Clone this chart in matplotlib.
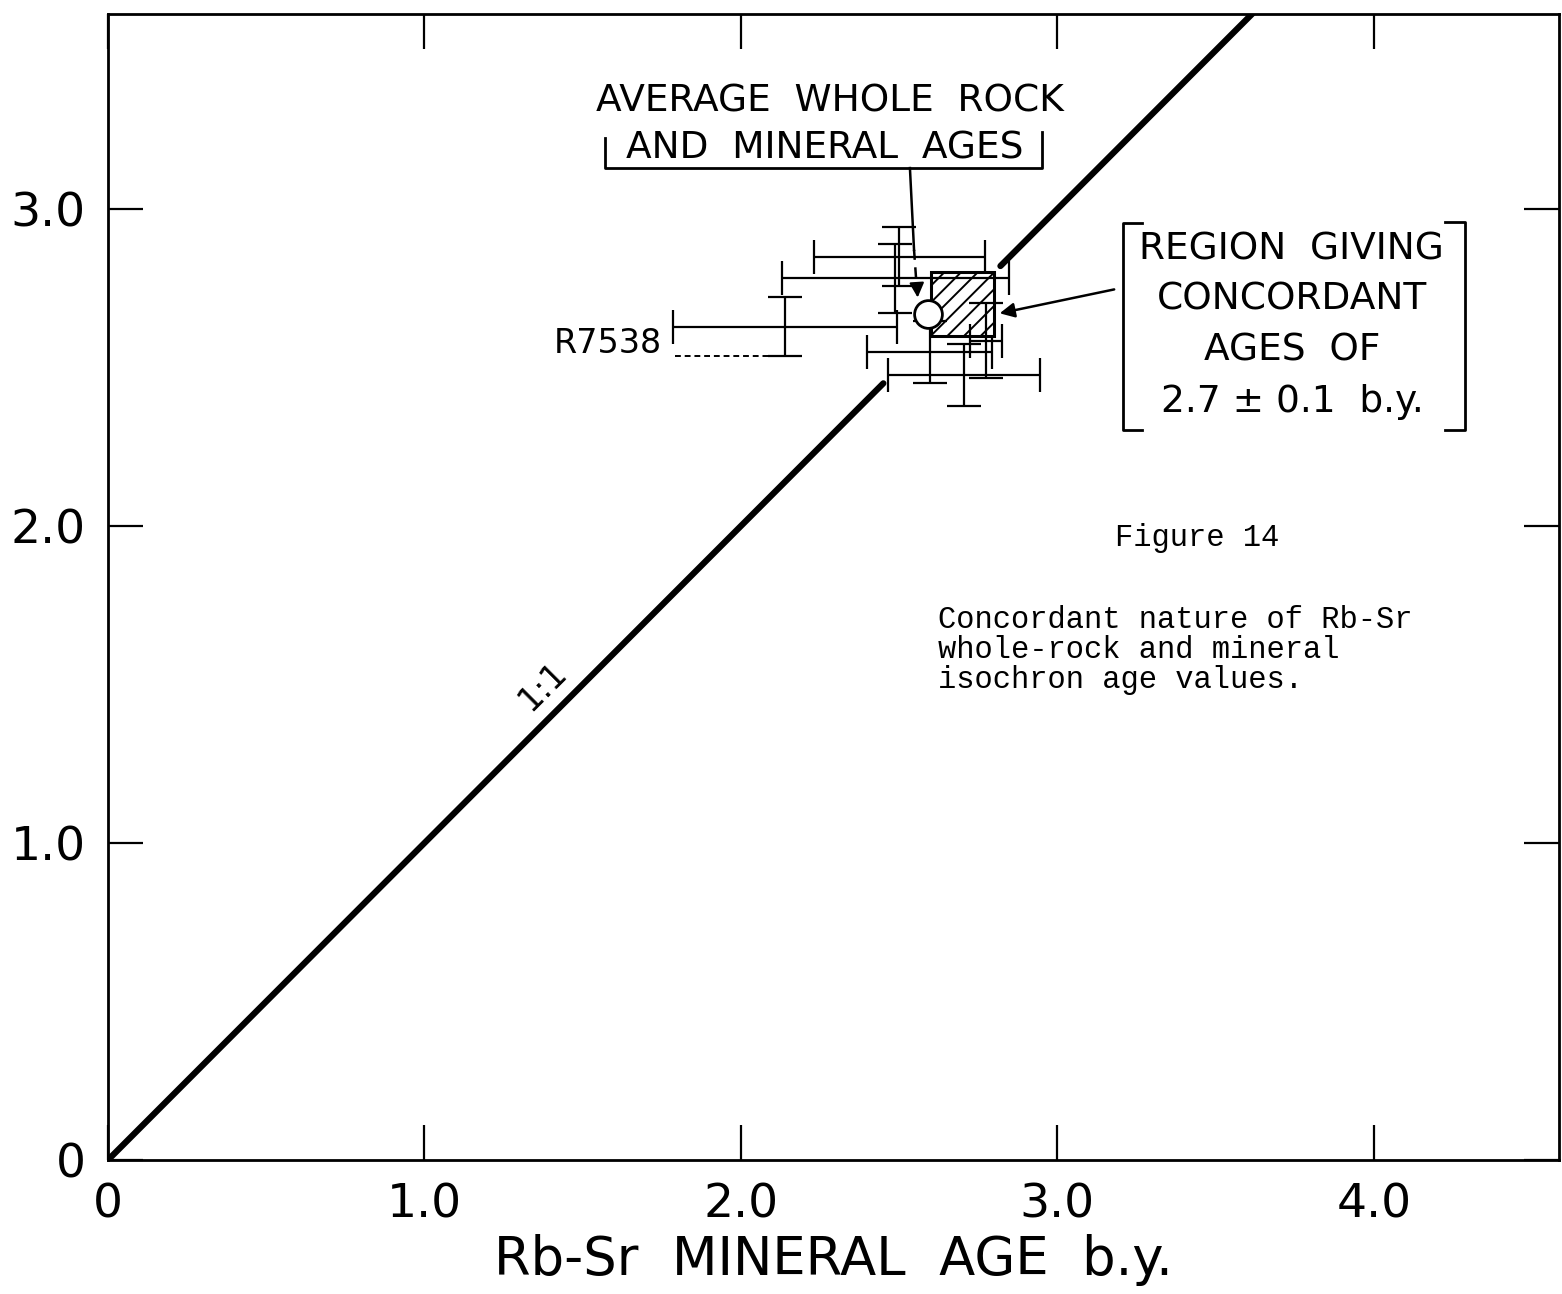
import matplotlib
matplotlib.use("Agg")
import matplotlib.pyplot as plt
from matplotlib.patches import Rectangle

# Rb-Sr mineral isochron ages (x) against whole-rock ages (y), b.y.
sample_names = ["R7538", "", "", "", "", ""]
mineral_age = [2.139, 2.501, 2.488, 2.596, 2.705, 2.774]
whole_rock_age = [2.628, 2.849, 2.782, 2.549, 2.476, 2.585]
mineral_err = [0.354, 0.270, 0.359, 0.197, 0.239, 0.050]
whole_rock_err = [0.093, 0.093, 0.109, 0.098, 0.099, 0.118]

# average of whole rock and mineral ages
average_age = (2.59, 2.67)

# concordant region 2.7 +/- 0.1 b.y.
region_center = 2.7
region_half = 0.1

# 1:1 reference line, broken where it passes the data cluster
diag_lower = [0.0, 2.45]
diag_upper = [2.82, 3.70]

x_ticks = [0, 1, 2, 3, 4]
x_tick_labels = ["0", "1.0", "2.0", "3.0", "4.0"]
y_ticks = [0, 1, 2, 3]
y_tick_labels = ["0", "1.0", "2.0", "3.0"]

plt.rcParams["font.family"] = ["DejaVu Sans"]
plt.rcParams["hatch.linewidth"] = 1.4

W, H = 1562, 1294
fig = plt.figure(figsize=(W / 100, H / 100), dpi=100)
ax = fig.add_axes([108 / W, 134 / H, 1451 / W, 1146 / H])
ax.set_xlim(0, 4.585)
ax.set_ylim(0, 3.615)

for s in ax.spines.values():
    s.set_linewidth(2.0)

ax.set_xticks(x_ticks)
ax.set_xticklabels(x_tick_labels)
ax.set_yticks(y_ticks)
ax.set_yticklabels(y_tick_labels)
ax.tick_params(direction="in", length=25, width=1.6, labelsize=34,
               top=True, right=True, pad=16)
ax.set_xlabel("Rb-Sr  MINERAL  AGE  b.y.", fontsize=38, labelpad=5)

# 1:1 line
ax.plot(diag_lower, diag_lower, color="black", lw=4.5, solid_capstyle="round", zorder=2)
ax.plot(diag_upper, diag_upper, color="black", lw=4.5, solid_capstyle="round", zorder=2)
ax.text(1.375, 1.495, "1:1", rotation=45, fontsize=24, ha="center", va="center")

# concordant region
ax.add_patch(Rectangle((region_center - region_half, region_center - region_half),
                       2 * region_half, 2 * region_half, facecolor="white",
                       edgecolor="black", lw=2.2, hatch="//", zorder=3))

# error bars
ax.errorbar(mineral_age, whole_rock_age, xerr=mineral_err, yerr=whole_rock_err,
            fmt="none", ecolor="black", elinewidth=1.6, capsize=12, capthick=1.6,
            zorder=4)

# average point
ax.plot([average_age[0]], [average_age[1]], "o", ms=20, mfc="white", mec="black",
        mew=2.0, zorder=5)

# R7538 label with dashed leader to the lower end of its bar
ax.plot([1.791, mineral_age[0]],
        [whole_rock_age[0] - whole_rock_err[0]] * 2,
        color="black", lw=1.4, ls=(0, (3, 2)), zorder=4)
ax.text(1.750, 2.577, sample_names[0], fontsize=24, ha="right", va="center")

# label for the average point
ax.text(2.281, 3.338, "AVERAGE  WHOLE  ROCK", fontsize=27, ha="center", va="center")
ax.text(2.265, 3.192, "AND  MINERAL  AGES", fontsize=27, ha="center", va="center")
ax.plot([1.570, 1.570, 2.951, 2.951], [3.224, 3.129, 3.129, 3.243],
        color="black", lw=2.0, clip_on=False)
ax.plot([2.534, 2.547], [3.129, 2.871], color="black", lw=1.8)
ax.plot([2.547, 2.556], [2.871, 2.745], color="black", lw=1.8, ls=(0, (4, 3)))
ax.annotate("", xy=(2.559, 2.712), xytext=(2.556, 2.760),
            arrowprops=dict(arrowstyle="-|>", color="black", lw=1.5,
                            mutation_scale=22))

# label for the concordant region
for txt, yy in [("REGION  GIVING", 2.871), ("CONCORDANT", 2.713),
                ("AGES  OF", 2.555), ("2.7 ± 0.1  b.y.", 2.391)]:
    ax.text(3.741, yy, txt, fontsize=27, ha="center", va="center")
ax.plot([3.267, 3.207, 3.207, 3.267], [2.956, 2.956, 2.303, 2.303],
        color="black", lw=2.0)
ax.plot([4.226, 4.287, 4.287, 4.226], [2.959, 2.959, 2.303, 2.303],
        color="black", lw=2.0)
ax.annotate("", xy=(2.809, 2.669), xytext=(3.188, 2.748),
            arrowprops=dict(arrowstyle="-|>", color="black", lw=1.8,
                            mutation_scale=22))

# figure caption
mono = ["Liberation Mono", "DejaVu Sans Mono"]
ax.text(3.182, 1.962, "Figure 14", fontsize=22, family=mono, ha="left", va="center")
for line, yy in [("Concordant nature of Rb-Sr", 1.703),
                 ("whole-rock and mineral", 1.609),
                 ("isochron age values.", 1.514)]:
    ax.text(2.622, yy, line, fontsize=22, family=mono, ha="left", va="center")

fig.savefig("out.png", dpi=100)
